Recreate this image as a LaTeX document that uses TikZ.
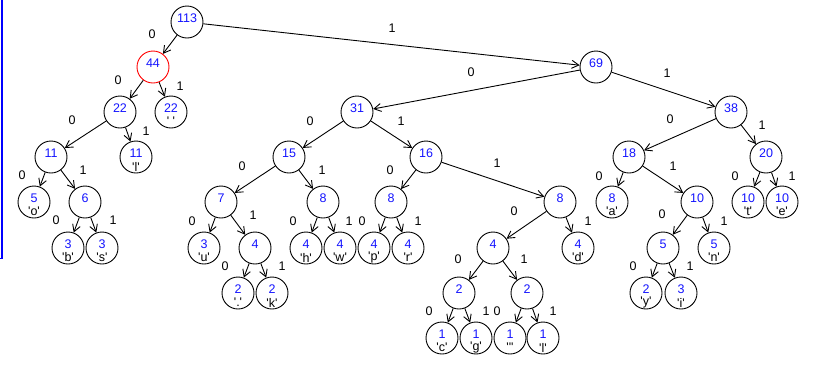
\documentclass[tikz,border=0pt]{standalone}
\usepackage{fontspec}
\setmainfont{Liberation Sans}
\usetikzlibrary{arrows.meta}
\newcommand\myq{\textquotesingle}
\definecolor{numblue}{RGB}{20,20,255}
\begin{document}
\begin{tikzpicture}[x=1pt,y=-1pt,
  font=\fontsize{12.5}{14}\selectfont,
  numl/.style={numblue,yshift=4pt,inner sep=0pt},
  chl/.style={black,yshift=-9.5pt,inner sep=0pt},
  tnode/.style={circle,draw,line width=0.9pt,minimum size=32pt,inner sep=0pt,fill=white},
  inode/.style={tnode,label={[numl]center:#1}},
  lnode/.style 2 args={tnode,label={[numl]center:#1},label={[chl]center:\myq#2\myq}},
  edge/.style={line width=0.9pt,-{Straight Barb[length=7pt,width=8pt,line width=0.9pt]}},
  el/.style={inner sep=0pt}]
\useasboundingbox (0,0) rectangle (815,365);
\draw[blue,line width=1.3pt] (2,0) -- (2,258.5) -- (0,258.5);
% nodes
\node[inode=113] (n113) at (187,22) {};
\node[inode=44,draw=red] (n44) at (153,67) {};
\node[inode=22] (n22) at (120,112) {};
\node[lnode={22}{ }] (n22s) at (171,112) {};
\node[inode=11] (n11) at (51,157) {};
\node[lnode={11}{l}] (n11l) at (136,157) {};
\node[lnode={5}{o}] (n5o) at (34,202) {};
\node[inode=6] (n6) at (85,202) {};
\node[lnode={3}{b}] (n3b) at (68,248) {};
\node[lnode={3}{s}] (n3s) at (102,248) {};
\node[inode=69] (n69) at (596,67) {};
\node[inode=31] (n31) at (357,112) {};
\node[inode=38] (n38) at (731,112) {};
\node[inode=15] (n15) at (289,157) {};
\node[inode=16] (n16) at (426,157) {};
\node[inode=7] (n7) at (221,202) {};
\node[inode=8] (n8a) at (323,202) {};
\node[inode=8] (n8b) at (391,202) {};
\node[inode=8] (n8c) at (560,202) {};
\node[lnode={3}{u}] (n3u) at (204,248) {};
\node[inode=4] (n4a) at (255,248) {};
\node[lnode={4}{h}] (n4h) at (306,248) {};
\node[lnode={4}{w}] (n4w) at (340,248) {};
\node[lnode={4}{p}] (n4p) at (374,248) {};
\node[lnode={4}{r}] (n4r) at (408,248) {};
\node[inode=4] (n4b) at (493,248) {};
\node[lnode={4}{d}] (n4d) at (578,248) {};
\node[lnode={2}{.}] (n2sp) at (238,293) {};
\node[lnode={2}{k}] (n2k) at (272,293) {};
\node[inode=2] (n2c) at (459,293) {};
\node[inode=2] (n2d) at (527,293) {};
\node[lnode={1}{c}] (n1c) at (442,338) {};
\node[lnode={1}{g}] (n1g) at (476,338) {};
\node[lnode={1}{\myq}] (n1q) at (510,338) {};
\node[lnode={1}{l}] (n1l) at (543,338) {};
\node[inode=18] (n18) at (629,157) {};
\node[inode=20] (n20) at (766,157) {};
\node[lnode={8}{a}] (n8aa) at (612,202) {};
\node[inode=10] (n10) at (697,202) {};
\node[lnode={10}{t}] (n10t) at (748,202) {};
\node[lnode={10}{e}] (n10e) at (782,202) {};
\node[inode=5] (n5) at (663,248) {};
\node[lnode={5}{n}] (n5n) at (714,248) {};
\node[lnode={2}{y}] (n2y) at (646,293) {};
\node[lnode={3}{i}] (n3i) at (681,293) {};
% edges
\draw[edge] (n113) -- (n44);
\draw[edge] (n113) -- (n69);
\draw[edge] (n44) -- (n22);
\draw[edge] (n44) -- (n22s);
\draw[edge] (n22) -- (n11);
\draw[edge] (n22) -- (n11l);
\draw[edge] (n11) -- (n5o);
\draw[edge] (n11) -- (n6);
\draw[edge] (n6) -- (n3b);
\draw[edge] (n6) -- (n3s);
\draw[edge] (n69) -- (n31);
\draw[edge] (n69) -- (n38);
\draw[edge] (n31) -- (n15);
\draw[edge] (n31) -- (n16);
\draw[edge] (n15) -- (n7);
\draw[edge] (n15) -- (n8a);
\draw[edge] (n16) -- (n8b);
\draw[edge] (n16) -- (n8c);
\draw[edge] (n7) -- (n3u);
\draw[edge] (n7) -- (n4a);
\draw[edge] (n8a) -- (n4h);
\draw[edge] (n8a) -- (n4w);
\draw[edge] (n8b) -- (n4p);
\draw[edge] (n8b) -- (n4r);
\draw[edge] (n8c) -- (n4b);
\draw[edge] (n8c) -- (n4d);
\draw[edge] (n4a) -- (n2sp);
\draw[edge] (n4a) -- (n2k);
\draw[edge] (n4b) -- (n2c);
\draw[edge] (n4b) -- (n2d);
\draw[edge] (n2c) -- (n1c);
\draw[edge] (n2c) -- (n1g);
\draw[edge] (n2d) -- (n1q);
\draw[edge] (n2d) -- (n1l);
\draw[edge] (n38) -- (n18);
\draw[edge] (n38) -- (n20);
\draw[edge] (n18) -- (n8aa);
\draw[edge] (n18) -- (n10);
\draw[edge] (n20) -- (n10t);
\draw[edge] (n20) -- (n10e);
\draw[edge] (n10) -- (n5);
\draw[edge] (n10) -- (n5n);
\draw[edge] (n5) -- (n2y);
\draw[edge] (n5) -- (n3i);
% edge labels
\node[el] (l1) at (152,34) {0};
\node[el] (l2) at (392,28) {1};
\node[el] (l3) at (118,80) {0};
\node[el] (l4) at (180,86) {1};
\node[el] (l5) at (72,120) {0};
\node[el] (l6) at (146,131) {1};
\node[el] (l7) at (22,175) {0};
\node[el] (l8) at (83,170) {1};
\node[el] (l9) at (56,220) {0};
\node[el] (l10) at (113,220) {1};
\node[el] (l11) at (471,72) {0};
\node[el] (l12) at (667,73) {1};
\node[el] (l13) at (310,121) {0};
\node[el] (l14) at (401,121) {1};
\node[el] (l15) at (242,166) {0};
\node[el] (l16) at (322,170) {1};
\node[el] (l17) at (390,170) {0};
\node[el] (l18) at (497,163) {1};
\node[el] (l19) at (192,221) {0};
\node[el] (l20) at (253,215) {1};
\node[el] (l21) at (293,221) {0};
\node[el] (l22) at (349,221) {1};
\node[el] (l23) at (362,221) {0};
\node[el] (l24) at (418,221) {1};
\node[el] (l25) at (514,211) {0};
\node[el] (l26) at (588,221) {1};
\node[el] (l27) at (225,266) {0};
\node[el] (l28) at (282,266) {1};
\node[el] (l29) at (458,259) {0};
\node[el] (l30) at (524,259) {1};
\node[el] (l31) at (429,311) {0};
\node[el] (l32) at (486,311) {1};
\node[el] (l33) at (497,311) {0};
\node[el] (l34) at (553,311) {1};
\node[el] (l35) at (670,119) {0};
\node[el] (l36) at (762,125) {1};
\node[el] (l37) at (599,176) {0};
\node[el] (l38) at (673,166) {1};
\node[el] (l39) at (735,176) {0};
\node[el] (l40) at (792,176) {1};
\node[el] (l41) at (662,214) {0};
\node[el] (l42) at (724,221) {1};
\node[el] (l43) at (633,266) {0};
\node[el] (l44) at (690,266) {1};
\end{tikzpicture}
\end{document}
